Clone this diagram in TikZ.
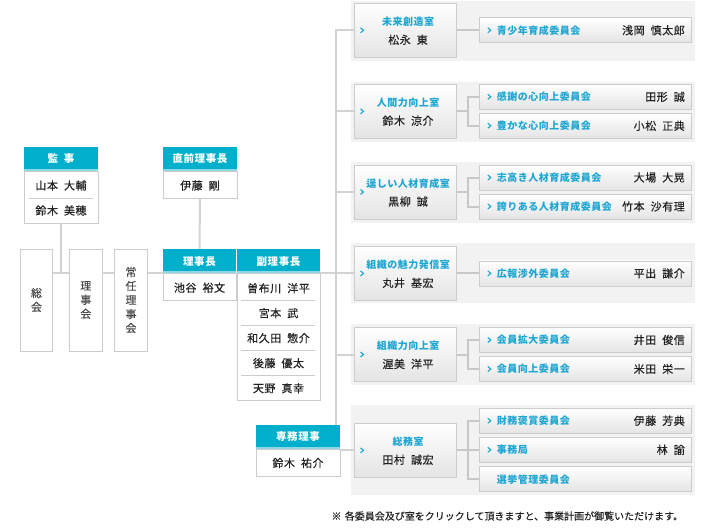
\documentclass[tikz,border=0pt]{standalone}
\usepackage{fontspec}
\newfontfamily\jp[LetterSpace=5,WordSpace=2]{Noto Sans CJK JP}
\newfontfamily\jpn[LetterSpace=5,WordSpace=2,FakeBold=0.35]{Noto Sans CJK JP}
\newfontfamily\jpf[WordSpace=1.5,FakeBold=0.2]{Noto Sans CJK JP}
\definecolor{cy}{HTML}{00AFCB}
\definecolor{cyband}{HTML}{8ED8E6}
\definecolor{bd}{HTML}{CCCCCC}
\definecolor{ln}{HTML}{D3D3D3}
\definecolor{brk}{HTML}{C8C8C8}
\definecolor{grp}{HTML}{F2F2F2}
\definecolor{tx}{HTML}{222222}
\definecolor{vtx}{HTML}{4A4A4A}
\definecolor{ctx}{HTML}{1EA6D3}
\definecolor{shb}{HTML}{E4E4E4}
\newcommand\mychev[2]{\path ([xshift=#1]#2.west) coordinate (chv); \draw[chev] ([xshift=-1.5pt,yshift=2.5pt]chv) -- ([xshift=1.5pt]chv) -- ([xshift=-1.5pt,yshift=-2.5pt]chv);}
\begin{document}
\begin{tikzpicture}[x=1pt,y=-1pt,
  hdr/.style={fill=cy, text=white, font=\jp\bfseries\fontsize{10.5}{12}\selectfont, inner sep=0pt, outer sep=0pt, minimum height=24.3pt},
  body/.style={draw=bd, fill=white, inner sep=0pt, outer sep=0pt, line width=0.8pt},
  nm/.style={text=tx, font=\jpn\fontsize{11}{13}\selectfont, inner sep=0pt},
  vbox/.style={draw=bd, fill=white, inner sep=0pt, outer sep=0pt, line width=0.8pt, minimum height=102pt, text=vtx, align=center, font=\jpn\fontsize{11}{14}\selectfont},
  conn/.style={draw=ln, line width=2pt},
  brkl/.style={draw=brk, line width=2pt},
  room/.style={draw=bd, line width=0.8pt, top color=white, bottom color=shb, inner sep=0pt, outer sep=0pt, minimum width=102.4pt, minimum height=54pt},
  comm/.style={draw=bd, line width=0.8pt, top color=white, bottom color=shb, inner sep=0pt, outer sep=0pt, minimum width=211.7pt, minimum height=25pt},
  ctitle/.style={text=ctx, font=\jp\bfseries\fontsize{10}{12}\selectfont, inner sep=0pt},
  chev/.style={draw=ctx, line width=1.1pt},
  divl/.style={draw=bd, line width=0.8pt},
  foot/.style={text=tx, font=\jpf\fontsize{10}{12}\selectfont, inner sep=0pt}
]
\useasboundingbox (0,0) rectangle (716,530);

% group backgrounds
\fill[grp] (351,1) rectangle (695,60.7);
\fill[grp] (351,81.7) rectangle (695,141.7);
\fill[grp] (351,161.7) rectangle (695,222.7);
\fill[grp] (351,243.3) rectangle (695,303.3);
\fill[grp] (351,324.3) rectangle (695,385);
\fill[grp] (351,405) rectangle (695,495);

% ---- left part ----
\node[body, minimum width=74pt, minimum height=52pt] (kb) at (61,197) {};
\node[hdr, minimum width=74pt] (kh) at (61,158.85) {監 事};
\fill[cyband] ([yshift=2pt]kh.south west) rectangle (kh.south east);
\node[nm] (k1) at (61,185.5) {山本 大輔};
\node[nm] (k2) at (61,210.5) {鈴木 美穂};
\draw[divl] (29,198.3) -- (93,198.3);

\node[body, minimum width=74pt, minimum height=27.7pt] (zb) at (200,184.85) {};
\node[hdr, minimum width=74pt] (zh) at (200,158.85) {直前理事長};
\fill[cyband] ([yshift=2pt]zh.south west) rectangle (zh.south east);
\node[nm] (z1) at (200,185.5) {伊藤 剛};

\node[vbox, minimum width=32.4pt] (sk) at (36.5,300) {総\\会};
\node[vbox, minimum width=33pt] (rk) at (85.8,300) {理\\事\\会};
\node[vbox, minimum width=33.4pt] (jk) at (131,300) {常\\任\\理\\事\\会};

\node[body, minimum width=73pt, minimum height=27pt] (rcb) at (199.5,286.8) {};
\node[hdr, minimum width=73pt] (rch) at (199.5,261.15) {理事長};
\fill[cyband] ([yshift=2pt]rch.south west) rectangle (rch.south east);
\node[nm] (rc1) at (199.5,287.7) {池谷 裕文};

\node[body, minimum width=83pt, minimum height=127pt] (fb) at (278.5,336.8) {};
\node[hdr, minimum width=83pt] (fh) at (278.5,261.15) {副理事長};
\fill[cyband] ([yshift=2pt]fh.south west) rectangle (fh.south east);
\node[nm] (f1) at (278.5,288.3) {曽布川 洋平};
\node[nm] (f2) at (278.5,313.2) {宮本 武};
\node[nm] (f3) at (278.5,338.2) {和久田 惣介};
\node[nm] (f4) at (278.5,363.2) {後藤 優太};
\node[nm] (f5) at (278.5,388.2) {天野 真幸};
\foreach \yy in {300.3,325.3,350.3,375.3} \draw[divl] (241,\yy) -- (315,\yy);

\node[body, minimum width=84pt, minimum height=27pt] (sb) at (298,462.5) {};
\node[hdr, minimum width=84pt] (sh) at (298,437) {専務理事};
\fill[cyband] ([yshift=2pt]sh.south west) rectangle (sh.south east);
\node[nm] (s1) at (298,463) {鈴木 祐介};

% ---- rooms ----
\node[room] (r1) at (405.5,30.3) {};
\node[room] (r2) at (405.5,111.3) {};
\node[room] (r3) at (405.5,192) {};
\node[room] (r4) at (405.5,273.4) {};
\node[room] (r5) at (405.5,354.5) {};
\node[room] (r6) at (405.5,450.3) {};
\foreach \r/\t/\n in {r1/未来創造室/松永 東, r2/人間力向上室/鈴木 涼介, r3/逞しい人材育成室/黒柳 誠, r4/組織の魅力発信室/丸井 基宏, r5/組織力向上室/渥美 洋平, r6/総務室/田村 誠宏}{
  \node[ctitle] (\r t) at ([xshift=2.5pt,yshift=8.5pt]\r.center) {\t};
  \node[nm] (\r n) at ([xshift=2.5pt,yshift=-9.5pt]\r.center) {\n};
  \mychev{7.7pt}{\r}
}

% ---- committees ----
\node[comm] (c11) at (585.15,30.3) {};
\node[comm] (c21) at (585.15,96.8) {};
\node[comm] (c22) at (585.15,125.8) {};
\node[comm] (c31) at (585.15,177.5) {};
\node[comm] (c32) at (585.15,206.5) {};
\node[comm] (c41) at (585.15,273.4) {};
\node[comm] (c51) at (585.15,340) {};
\node[comm] (c52) at (585.15,369) {};
\node[comm] (c61) at (585.15,420.8) {};
\node[comm] (c62) at (585.15,449.8) {};
\node[comm] (c63) at (585.15,479.2) {};
\foreach \c/\t/\n in {c11/青少年育成委員会/浅岡 慎太郎, c21/感謝の心向上委員会/田形 誠, c22/豊かな心向上委員会/小松 正典, c31/志高き人材育成委員会/大場 大晃, c32/誇りある人材育成委員会/竹本 沙有理, c41/広報渉外委員会/平出 謙介, c51/会員拡大委員会/井田 俊信, c52/会員向上委員会/米田 栄一, c61/財務褒賞委員会/伊藤 芳典, c62/事務局/林 諭}{
  \node[ctitle, anchor=west] (\c t) at ([xshift=17.4pt]\c.west) {\t};
  \node[nm, anchor=east] (\c n) at ([xshift=-6pt]\c.east) {\n};
  \mychev{10pt}{\c}
}
\node[ctitle, anchor=west] (c63t) at ([xshift=17.4pt]c63.west) {選挙管理委員会};

% ---- connectors ----
\coordinate (tr) at (336,0);
\coordinate (ml) at (0,273.4);
\draw[conn] (r1.west) -- (r1.west -| tr) -- (sh.north -| tr);
\draw[conn] (r2.west) -- (r2.west -| tr);
\draw[conn] (r3.west) -- (r3.west -| tr);
\draw[conn] (r5.west) -- (r5.west -| tr);
\draw[conn] (sk.east |- ml) -- (rk.west |- ml);
\draw[conn] (rk.east |- ml) -- (jk.west |- ml);
\draw[conn] (jk.east |- ml) -- (rch.west |- ml);
\draw[conn] (fh.east |- ml) -- (r4.west);
\draw[conn] (kb.south) -- (kb.south |- ml);
\draw[conn] (zb.south) -- (rch.north);
\draw[conn] (sb.east |- r6.west) -- (r6.west);

\coordinate (bx) at (467.7,0);
\draw[brkl] (r1.east) -- (c11.west);
\draw[brkl] (r4.east) -- (c41.west);
\draw[brkl] (r2.east) -- (r2.east -| bx);
\draw[brkl] (c21.west) -- (c21.west -| bx) -- (c22.west -| bx) -- (c22.west);
\draw[brkl] (r3.east) -- (r3.east -| bx);
\draw[brkl] (c31.west) -- (c31.west -| bx) -- (c32.west -| bx) -- (c32.west);
\draw[brkl] (r5.east) -- (r5.east -| bx);
\draw[brkl] (c51.west) -- (c51.west -| bx) -- (c52.west -| bx) -- (c52.west);
\draw[brkl] (r6.east) -- (r6.east -| bx);
\draw[brkl] (c61.west) -- (c61.west -| bx) -- (c63.west -| bx) -- (c63.west);
\draw[brkl] (c62.west -| bx) -- (c62.west);

% footer
\node[foot, anchor=east] (ft) at (683.3,516) {※ 各委員会及び室をクリックして頂きますと、事業計画が御覧いただけます。};
\end{tikzpicture}
\end{document}
